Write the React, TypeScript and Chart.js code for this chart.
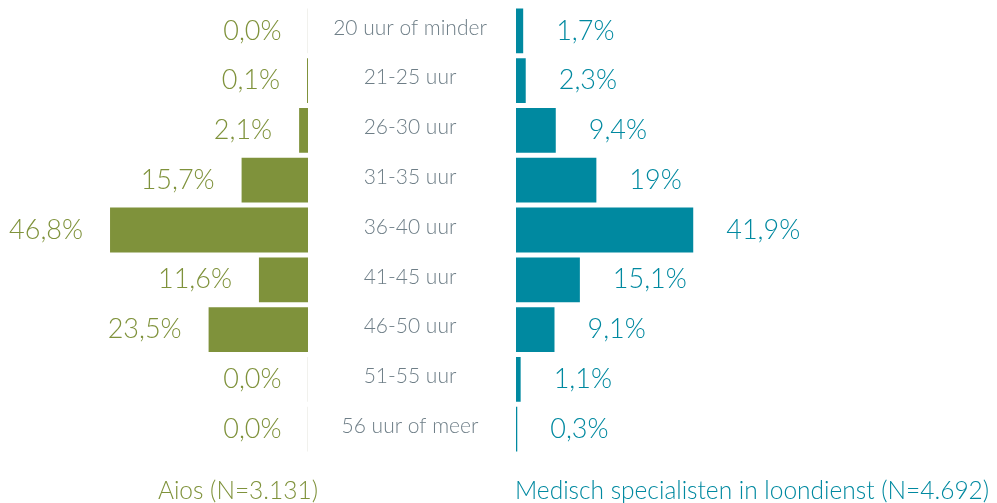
import React, { useEffect, useRef } from 'react';
import { Chart, registerables } from 'chart.js';
Chart.register(...registerables);

const categories = ['20 uur of minder', '21-25 uur', '26-30 uur', '31-35 uur', '36-40 uur', '41-45 uur', '46-50 uur', '51-55 uur', '56 uur of meer'];
const aiosValues = [0, 0.1, 2.1, 15.7, 46.8, 11.6, 23.5, 0, 0];
const aiosLabels = ['0,0%', '0,1%', '2,1%', '15,7%', '46,8%', '11,6%', '23,5%', '0,0%', '0,0%'];
const specValues = [1.7, 2.3, 9.4, 19, 41.9, 15.1, 9.1, 1.1, 0.3];
const specLabels = ['1,7%', '2,3%', '9,4%', '19%', '41,9%', '15,1%', '9,1%', '1,1%', '0,3%'];
const aiosTitle = 'Aios (N=3.131)';
const specTitle = 'Medisch specialisten in loondienst (N=4.692)';

const OLIVE = '#7f923b';
const TEAL = '#0089a0';
const CAT_COLOR = '#6e7e87';
const ZERO_COLOR = '#e4e4dc';
const FONT = "Lato, 'Noto Sans', sans-serif";
const AXIS_MAX = 50;

function makePlugin(side: 'left' | 'right', labels: string[], color: string, title: string) {
  return {
    id: 'labels_' + side,
    afterDatasetsDraw(chart: any) {
      const ctx = chart.ctx;
      const meta = chart.getDatasetMeta(0);
      const area = chart.chartArea;
      ctx.save();
      ctx.fillStyle = color;
      ctx.font = `300 27px ${FONT}`;
      ctx.textBaseline = 'middle';
      meta.data.forEach((bar: any, i: number) => {
        if (side === 'left') {
          ctx.textAlign = 'right';
          ctx.fillText(labels[i], bar.x - 27, bar.y);
        } else {
          ctx.textAlign = 'left';
          ctx.fillText(labels[i], bar.x + 33, bar.y);
        }
      });
      // title
      ctx.font = `300 24.5px ${FONT}`;
      if (side === 'left') {
        ctx.textAlign = 'right';
        ctx.fillText(title, area.right + 10, 491);
      } else {
        ctx.textAlign = 'left';
        ctx.fillText(title, area.left - 1, 491);
        // category labels
        const yScale = chart.scales.y;
        ctx.fillStyle = CAT_COLOR;
        ctx.font = `300 21px ${FONT}`;
        ctx.textAlign = 'center';
        categories.forEach((c, i) => {
          ctx.fillText(c, area.left - 106, yScale.getPixelForValue(i) - 3);
        });
      }
      ctx.restore();
    },
  };
}

function buildChart(canvas: HTMLCanvasElement, side: 'left' | 'right') {
  const isLeft = side === 'left';
  const values = isLeft ? aiosValues : specValues;
  const color = isLeft ? OLIVE : TEAL;
  return new Chart(canvas, {
    type: 'bar',
    data: {
      labels: categories,
      datasets: [
        {
          data: values,
          backgroundColor: (c: any) => (c.raw === 0 ? ZERO_COLOR : color),
          borderWidth: 0,
          minBarLength: 1,
          barPercentage: 0.9,
          categoryPercentage: 1,
        },
      ],
    },
    options: {
      indexAxis: 'y',
      responsive: false,
      animation: false,
      layout: {
        padding: isLeft
          ? { left: 96.5, right: 22, top: 6, bottom: 49 }
          : { left: 208, right: 269.5, top: 6, bottom: 49 },
      },
      scales: {
        x: { display: false, min: 0, max: AXIS_MAX, reverse: isLeft },
        y: { display: false },
      },
      plugins: {
        legend: { display: false },
        tooltip: { enabled: false },
        title: { display: false },
      },
    },
    plugins: [makePlugin(side, isLeft ? aiosLabels : specLabels, color, isLeft ? aiosTitle : specTitle)],
  } as any);
}

export default function App() {
  const leftRef = useRef<HTMLCanvasElement>(null);
  const rightRef = useRef<HTMLCanvasElement>(null);
  useEffect(() => {
    const a = buildChart(leftRef.current!, 'left');
    const b = buildChart(rightRef.current!, 'right');
    return () => {
      a.destroy();
      b.destroy();
    };
  }, []);
  return (
    <div style={{ position: 'absolute', left: 0, top: 0, width: 997, height: 503, background: '#fff', overflow: 'hidden' }}>
      <canvas ref={leftRef} width={330} height={503} style={{ position: 'absolute', left: 0, top: 0, width: 330, height: 503 }} />
      <canvas ref={rightRef} width={689} height={503} style={{ position: 'absolute', left: 308, top: 0, width: 689, height: 503 }} />
    </div>
  );
}
